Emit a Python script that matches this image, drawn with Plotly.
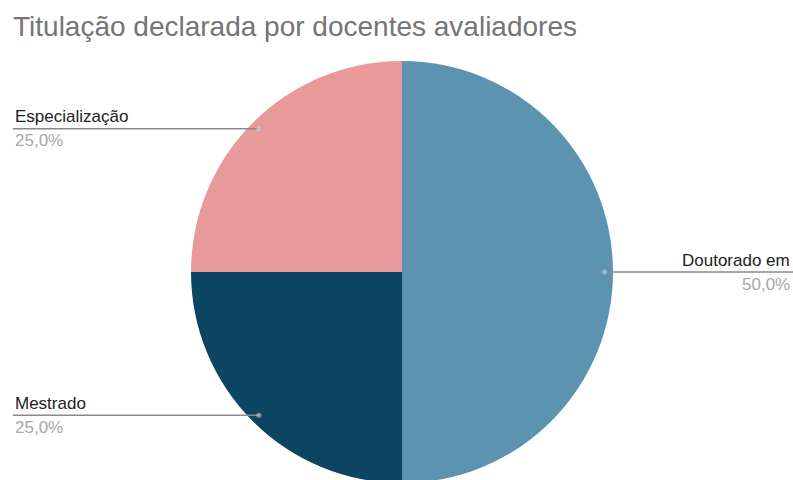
import math
import plotly.graph_objects as go

# ---- data ----
categories = ["Doutorado em", "Mestrado", "Especialização"]
values = [50, 25, 25]
colors = ["#5b93b1", "#0c4562", "#e8999a"]
title_text = "Titulação declarada por docentes avaliadores"

# figure is slightly taller than the 480px window so the pie bottom is clipped as in the reference
W, H = 793, 483

# pie placement in pixels
pie_left, pie_right = 190, 614
pie_top = 61
dom_x = [pie_left / W, pie_right / W]
dom_y = [0.0, 1 - pie_top / H]

fig = go.Figure(go.Pie(
    labels=categories,
    values=values,
    sort=False,
    direction="clockwise",
    rotation=0,
    marker=dict(colors=colors, line=dict(width=0)),
    textinfo="none",
    textposition="none",
    hoverinfo="label+percent",
    showlegend=False,
    domain=dict(x=dom_x, y=dom_y),
))

# geometry of the pie in pixels (derived from domain, as plotly does)
w_px = (dom_x[1] - dom_x[0]) * W
h_px = (dom_y[1] - dom_y[0]) * H
r_px = min(w_px, h_px) / 2
cx = (dom_x[0] + dom_x[1]) / 2 * W
cy = H - (dom_y[0] + dom_y[1]) / 2 * H  # from top

total = sum(values)
shapes = []
annotations = []


def p(x, y):
    """pixel (from top-left) -> paper coords"""
    return x / W, 1 - y / H


start = 0.0
for cat, val in zip(categories, values):
    frac = val / total
    mid = (start + frac / 2) * 2 * math.pi
    start += frac
    R = 0.96 * r_px
    dx = cx + R * math.sin(mid)
    dy = cy - R * math.cos(mid)
    right = math.sin(mid) > 0
    pct = f"{frac*100:.1f}".replace(".", ",") + "%"
    if right:
        x_end = W
        tx, anchor = 792, "right"
    else:
        x_end = 13
        tx, anchor = 13, "left"
    px0, py0 = p(dx, dy)
    px1, _ = p(x_end, dy)
    shapes.append(dict(type="line", xref="paper", yref="paper",
                       x0=px0, y0=py0, x1=px1, y1=py0,
                       line=dict(color="#8a8a8a", width=1.3)))
    c0 = p(dx - 2.5, dy + 2.5)
    c1 = p(dx + 2.5, dy - 2.5)
    shapes.append(dict(type="circle", xref="paper", yref="paper",
                       x0=c0[0], x1=c1[0], y0=c0[1], y1=c1[1],
                       fillcolor="rgba(200,210,220,0.6)", line=dict(width=0)))
    lx, ly = p(tx, dy - 12)
    annotations.append(dict(x=lx, y=ly, xref="paper", yref="paper",
                            text=cat, showarrow=False, xanchor=anchor, yanchor="middle",
                            font=dict(family="Liberation Sans, Arial", size=17, color="#222222")))
    lx2, ly2 = p(tx, dy + 12)
    annotations.append(dict(x=lx2, y=ly2, xref="paper", yref="paper",
                            text=pct, showarrow=False, xanchor=anchor, yanchor="middle",
                            font=dict(family="Liberation Sans, Arial", size=17, color="#a8a8a8")))

tx_, ty_ = p(11, 27)
annotations.append(dict(x=tx_, y=ty_, xref="paper", yref="paper", text=title_text,
                        showarrow=False, xanchor="left", yanchor="middle",
                        font=dict(family="Liberation Sans, Arial", size=28, color="#757575")))

fig.update_layout(
    width=W, height=H,
    margin=dict(l=0, r=0, t=0, b=0),
    paper_bgcolor="white",
    plot_bgcolor="white",
    shapes=shapes,
    annotations=annotations,
)

fig.write_html(
    "out.html",
    config={"displayModeBar": False},
    post_script="document.body.style.margin='0';document.body.style.overflow='hidden';",
)
